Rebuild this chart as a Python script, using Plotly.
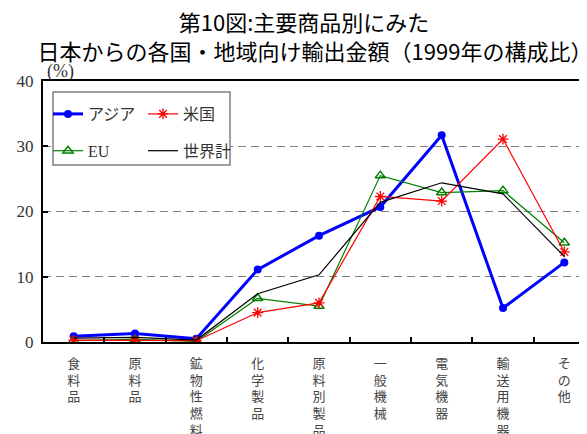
import plotly.graph_objects as go

categories = ["食料品", "原料品", "鉱物性燃料", "化学製品", "原料別製品", "一般機械", "電気機器", "輸送用機器", "その他"]
asia = [0.9, 1.3, 0.5, 11.1, 16.3, 20.7, 31.7, 5.2, 12.2]
usa = [0.3, 0.3, 0.2, 4.5, 6.0, 22.3, 21.6, 31.1, 13.8]
eu = [0.2, 0.4, 0.1, 6.7, 5.5, 25.5, 22.9, 23.2, 15.2]
world = [0.6, 0.7, 0.3, 7.4, 10.3, 21.4, 24.4, 22.7, 13.1]
y_ticks = [0, 10, 20, 30, 40]

xcats = ["<br>".join(c) for c in categories]

W, H = 587, 434
OFF = 8  # page offset of the figure
ML, MR, MT, MB = 35, 0, 73, 100
PW = W - ML - MR
PH = H - MT - MB

def px_x(p):
    return (p - OFF - ML) / PW

def px_y(p):
    return (H - MB - (p - OFF)) / PH

fig = go.Figure()
fig.add_trace(go.Scatter(x=xcats, y=asia, name="アジア", mode="lines+markers",
                         line=dict(color="#0000FF", width=3),
                         marker=dict(symbol="circle", size=8, color="#0000FF"),
                         legend="legend", legendgroup="a"))
fig.add_trace(go.Scatter(x=xcats, y=eu, name="EU", mode="lines+markers",
                         line=dict(color="#008000", width=1.2),
                         marker=dict(symbol="triangle-up-open", size=9, color="#008000", line=dict(width=1.5)),
                         legend="legend", legendgroup="b"))
fig.add_trace(go.Scatter(x=xcats, y=usa, name="米国", mode="lines+markers",
                         line=dict(color="#FF0000", width=1.2),
                         marker=dict(symbol="asterisk-open", size=9, color="#FF0000", line=dict(width=1.3, color="#FF0000")),
                         legend="legend2", legendgroup="c"))
fig.add_trace(go.Scatter(x=xcats, y=world, name="世界計", mode="lines",
                         line=dict(color="#000000", width=1.2),
                         legend="legend2", legendgroup="d"))

legend_font = dict(family="Liberation Serif, Noto Sans CJK JP", size=16, color="#333333")

fig.update_layout(
    width=W, height=H,
    margin=dict(l=ML, r=MR, t=MT, b=MB),
    paper_bgcolor="white", plot_bgcolor="white",
    title=dict(text="第10図:主要商品別にみた　<br>日本からの各国・地域向け輸出金額（1999年の構成比）",
               x=0.523, xanchor="center", y=1 - 23 / H, yanchor="middle",
               font=dict(family="Noto Sans CJK JP", size=22, color="#000000")),
    legend=dict(x=px_x(48), y=px_y(97), xanchor="left", yanchor="top",
                bgcolor="rgba(0,0,0,0)", borderwidth=0, font=legend_font,
                tracegroupgap=13, itemwidth=30),
    legend2=dict(x=px_x(143), y=px_y(97), xanchor="left", yanchor="top",
                 bgcolor="rgba(0,0,0,0)", borderwidth=0, font=legend_font,
                 tracegroupgap=13, itemwidth=30),
    shapes=[dict(type="rect", xref="paper", yref="paper",
                 x0=px_x(53), x1=px_x(230), y0=px_y(165), y1=px_y(92),
                 line=dict(color="#808080", width=1.5), fillcolor="white", layer="above")],
    annotations=[dict(text="(%)", xref="paper", yref="paper", x=px_x(45), y=px_y(72),
                      xanchor="left", yanchor="middle", showarrow=False,
                      font=dict(family="Liberation Serif", size=18, color="#333333"))],
)

fig.update_xaxes(type="category", categoryorder="array", categoryarray=xcats,
                 range=[-0.5, 8.5], automargin=False,
                 showline=True, linecolor="black", linewidth=2, mirror=True,
                 ticks="inside", ticklen=5, tickcolor="black", tickwidth=1.5,
                 tickson="boundaries", showgrid=False,
                 tickfont=dict(family="Noto Sans CJK JP", size=13, color="#444444"),
                 ticklabelstandoff=8)
fig.update_yaxes(range=[0, 40], tickvals=y_ticks, automargin=False,
                 showline=True, linecolor="black", linewidth=2, mirror=False,
                 ticks="inside", ticklen=5, tickcolor="black", tickwidth=1.5,
                 showgrid=True, gridcolor="#808080", gridwidth=1, griddash="8px,5px",
                 zeroline=False,
                 tickfont=dict(family="Liberation Serif", size=17, color="#333333"),
                 ticklabelstandoff=4)

fig.write_html("out.html")
